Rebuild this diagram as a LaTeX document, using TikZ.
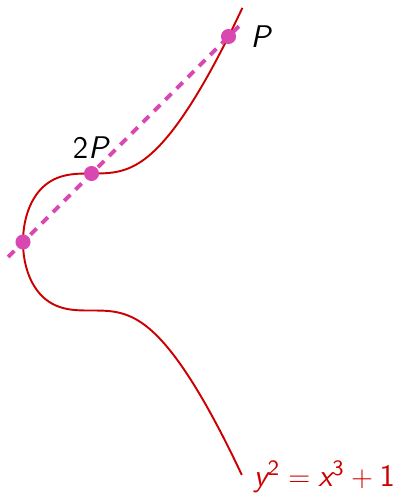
\documentclass[tikz,border=0pt]{standalone}
\usepackage{amsmath,amssymb}
\usepackage{tikz}
\usetikzlibrary{positioning,calc}
\definecolor{curvered}{RGB}{204,0,0}
\definecolor{ptpink}{RGB}{217,72,176}
\newcommand{\mvar}[1]{\textsf{\itshape #1}}
\newcommand{\mnum}[1]{\textsf{#1}}
\tikzset{
  curve/.style={curvered,line width=0.8pt},
  chord/.style={ptpink,line width=1.6pt,dash pattern=on 3.6pt off 3pt},
  dot/.style={fill=ptpink}
}

\begin{document}
\begin{tikzpicture}[font=\fontsize{13}{15}\selectfont]
  \useasboundingbox (-1.336,-3.664) rectangle (4.547,3.533);
  \coordinate (Q) at (-1,0);
  \coordinate (D) at (0,1);
  \coordinate (P) at (2,3);
  \coordinate (lo) at (2.194,-3.4);
  \draw[curve] plot[domain=2.194:-0.8618,samples=80,smooth] ({\x},{-sqrt(\x*\x*\x+1)})
    -- plot[domain=-0.6:0.6,samples=40,smooth,variable=\t] ({-pow(1-\t*\t,1/3)},{\t})
    -- plot[domain=-0.8618:2.203,samples=80,smooth] ({\x},{sqrt(\x*\x*\x+1)});
  \draw[chord] ($(Q)!-0.073!(P)$) -- ($(P)!-0.073!(Q)$);
  \foreach \p in {Q,D,P} \fill[dot] (\p) circle (0.11);
  \node[right=0.2 of P] (lblP) {\mvar{P}};
  \node[above=0.1 of D] (lblD) {\mnum{2}\mvar{P}};
  \node[right=0.05 of lo,yshift=-0.03cm,text=curvered] (eq)
    {$\mvar{y}^{\mnum{2}}=\mvar{x}^{\mnum{3}}+\mnum{1}$};
\end{tikzpicture}
\end{document}
